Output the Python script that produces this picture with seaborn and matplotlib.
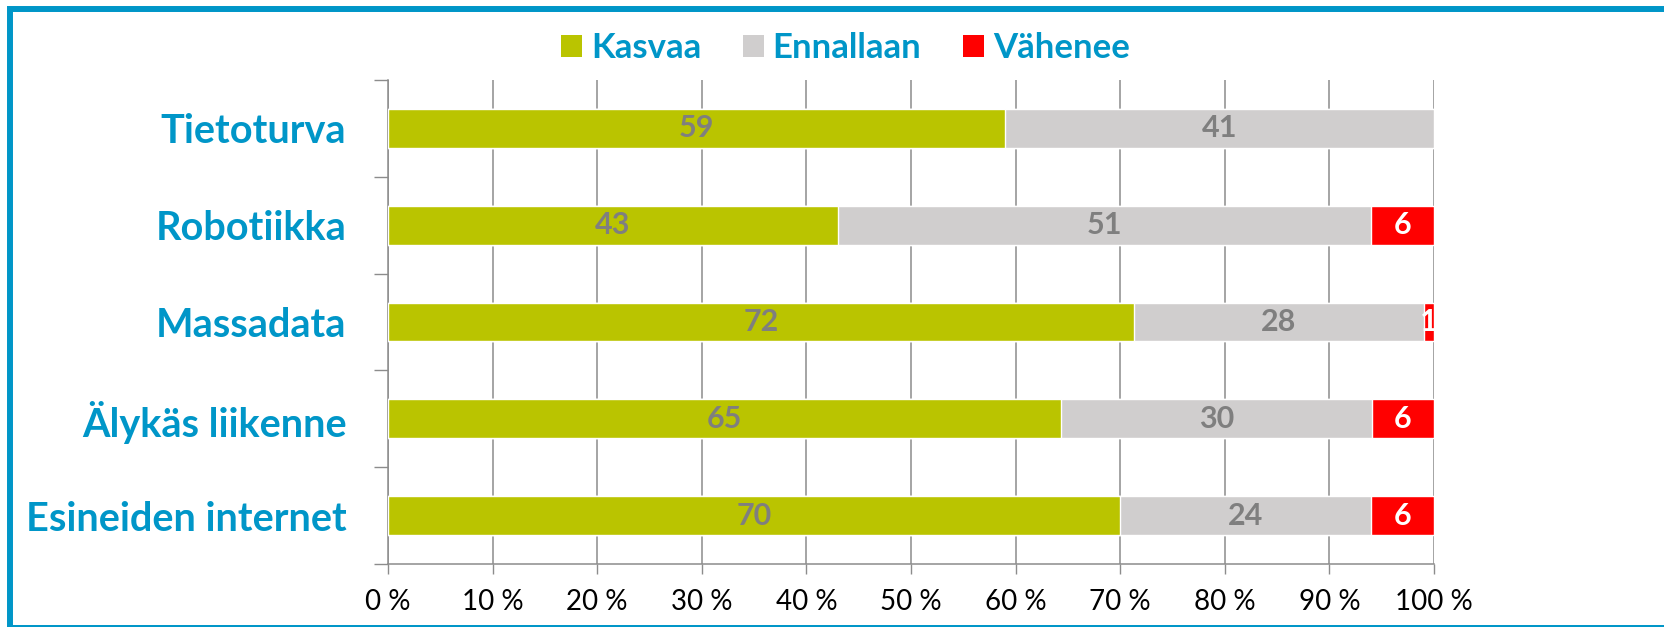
import numpy as np
import pandas as pd
import seaborn as sns
import matplotlib.pyplot as plt
from matplotlib.patches import Patch, Rectangle

# values (percent, as printed on the bars)
categories = ['Tietoturva', 'Robotiikka', 'Massadata', 'Älykäs liikenne', 'Esineiden internet']
kasvaa = [59, 43, 72, 65, 70]
ennallaan = [41, 51, 28, 30, 24]
vahenee = [0, 6, 1, 6, 6]
series_names = ['Kasvaa', 'Ennallaan', 'Vähenee']
x_ticks = [0, 10, 20, 30, 40, 50, 60, 70, 80, 90, 100]

GREEN = '#BAC400'
GREY = '#D0CECE'
RED = '#FF0000'
BLUE = '#0096C8'
LABEL_GREY = '#7F7F7F'

sns.set_style('white')
plt.rcParams['font.family'] = ['Lato', 'DejaVu Sans']

df = pd.DataFrame({'cat': categories, 'Kasvaa': kasvaa,
                   'Ennallaan': ennallaan, 'Vähenee': vahenee})
# 100 % stacked: scale each row so it fills the axis
total = df[series_names].sum(axis=1)
for s in series_names:
    df[s + '_pct'] = df[s] / total * 100
df['cum1'] = df['Kasvaa_pct']
df['cum2'] = df['cum1'] + df['Ennallaan_pct']
df['cum3'] = df['cum2'] + df['Vähenee_pct']

fig = plt.figure(figsize=(16.65, 6.27), dpi=100)
ax = fig.add_axes([388 / 1665, 1 - 564 / 627, (1434 - 388) / 1665, (564 - 80) / 627])

# draw back to front: full bar in red, then grey, then green on top
sns.barplot(data=df, x='cum3', y='cat', orient='h', color=RED, width=0.4,
            saturation=1, ax=ax, zorder=3)
sns.barplot(data=df, x='cum2', y='cat', orient='h', color=GREY, width=0.4,
            saturation=1, ax=ax, zorder=3)
sns.barplot(data=df, x='cum1', y='cat', orient='h', color=GREEN, width=0.4,
            saturation=1, ax=ax, zorder=3)

# segment labels
for i, row in df.iterrows():
    starts = [0, row['cum1'], row['cum2']]
    for s, st, col in zip(series_names, starts, [LABEL_GREY, LABEL_GREY, 'white']):
        val = row[s]
        if val == 0:
            continue
        ax.text(st + row[s + '_pct'] / 2, i, str(val), ha='center', va='center',
                fontsize=22, fontweight='bold', color=col, zorder=5)

ax.set_xlim(0, 100)
ax.set_ylim(4.5, -0.5)
ax.set_xlabel('')
ax.set_ylabel('')
ax.set_xticks(x_ticks)
ax.set_xticklabels([f'{t} %' for t in x_ticks])
ax.tick_params(axis='x', labelsize=20, colors='black', length=7, width=1,
               direction='out', pad=11, color='#8C8C8C', bottom=True)

ax.set_yticks(range(len(categories)))
ax.set_yticklabels(categories)
ax.set_yticks(np.arange(-0.5, len(categories)), minor=True)
ax.tick_params(axis='y', which='major', length=0, pad=30, labelsize=28.5,
               labelcolor=BLUE)
ax.tick_params(axis='y', which='minor', length=10, width=1, color='#8C8C8C',
               direction='out', left=True)
for lab in ax.get_yticklabels():
    lab.set_fontweight('bold')

ax.grid(axis='x', color='#8C8C8C', linewidth=1.1, zorder=0)
ax.set_axisbelow(True)
sns.despine(ax=ax, top=True, right=True)
for sp in ['left', 'bottom']:
    ax.spines[sp].set_color('#8C8C8C')
    ax.spines[sp].set_linewidth(1.1)

handles = [Patch(facecolor=c, edgecolor='none') for c in [GREEN, GREY, RED]]
leg = fig.legend(handles, series_names, loc='center', ncol=3,
                 bbox_to_anchor=(845.5 / 1665, 1 - 48 / 627), frameon=False,
                 prop={'size': 25, 'weight': 'bold'}, labelcolor=BLUE,
                 handlelength=0.6, handleheight=0.6, handletextpad=0.26,
                 columnspacing=1.2)

# blue frame around the slide area
fig.patches.append(Rectangle((10.5 / 1665, 1 - 628 / 627), 1.1, (628 - 9) / 627,
                             transform=fig.transFigure, fill=False,
                             edgecolor=BLUE, linewidth=4.3, clip_on=False))

fig.savefig('out.png', dpi=100)
